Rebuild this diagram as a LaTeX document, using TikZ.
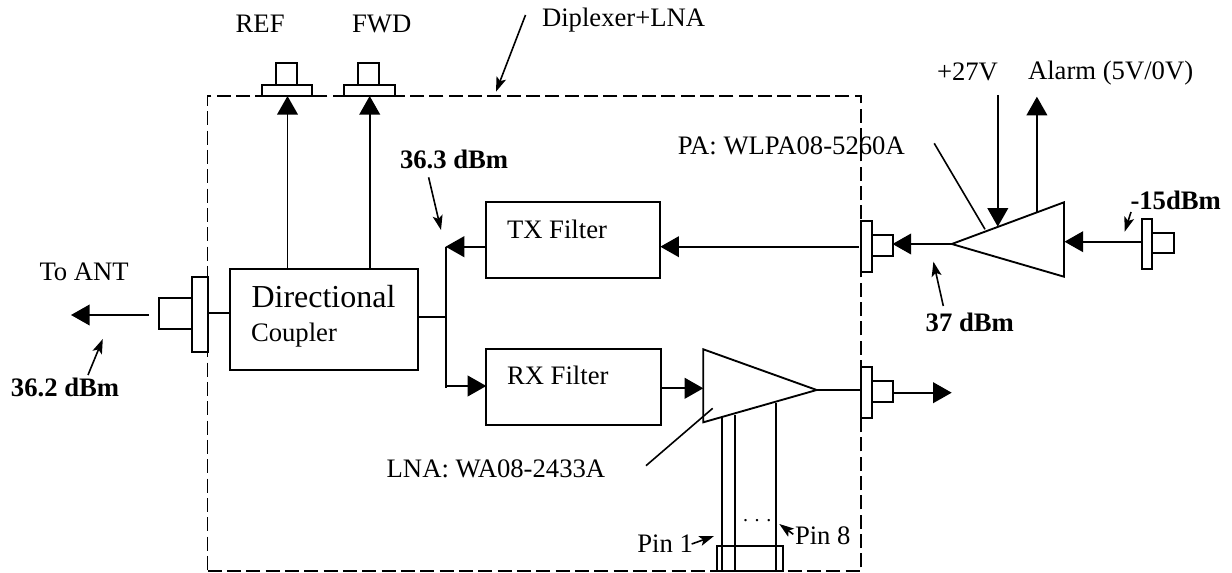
\documentclass[tikz,border=0pt]{standalone}
\usepackage{fontspec}
\setmainfont{Liberation Serif}
\usetikzlibrary{arrows.meta}
\tikzset{
  px/.style={x=0.75pt,y=-0.75pt},
  wire/.style={line width=1.4pt,line join=miter},
  thin wire/.style={line width=1.2pt},
  box/.style={draw,line width=1.4pt,inner sep=0pt,outer sep=0pt,anchor=north west},
  big arrow/.style={wire,-{Triangle[length=14pt,width=15.5pt]}},
  small arrow/.style={thin wire,-{Stealth[length=11pt,width=7.5pt,inset=2.5pt]}},
  lab/.style={anchor=base west,inner sep=0pt,outer sep=0pt,font=\fontsize{20}{22}\selectfont},
  blab/.style={lab,font=\fontsize{20}{22}\selectfont\bfseries},
  enclosure/.style={line width=1.4pt,dash pattern=on 10.5pt off 4pt},
}
\newcommand{\pxbox}[5]{\node[box,minimum width=#4*0.75pt,minimum height=#5*0.75pt] (#1) at (#2,#3) {};}
\begin{document}
\begin{tikzpicture}[px]
\useasboundingbox[fill=white] (0,0) rectangle (1232,573);
% enclosure
\node[enclosure,draw,inner sep=0pt,outer sep=0pt,anchor=north west,minimum width=653.5*0.75pt,minimum height=475.5*0.75pt] (encl) at (207.5,95.7) {};
% blocks
\pxbox{coupler}{229.7}{269}{188.3}{101}
\pxbox{tx}{486.3}{202.3}{174}{76}
\pxbox{rx}{486.3}{349.3}{174.4}{75.4}
% connectors: top
\pxbox{reftab}{261.8}{85}{50.6}{10.7}
\pxbox{refstem}{275.6}{62.7}{21.4}{22.3}
\pxbox{fwdtab}{344}{85}{50.6}{10.7}
\pxbox{fwdstem}{358}{62.7}{21.4}{22.3}
% left connector
\pxbox{antplate}{192}{277.3}{15.6}{74.4}
\pxbox{antstem}{159}{298.3}{33}{30.4}
% output connector of PA path
\pxbox{paplate}{861}{221}{10.8}{50.7}
\pxbox{pastem}{871.8}{235}{21.4}{21}
% LNA output connector
\pxbox{lnaplate}{861}{367.3}{10.8}{50.4}
\pxbox{lnastem}{871.8}{381}{21.5}{21}
% PA input connector
\pxbox{inplate}{1141.9}{219}{10.5}{50}
\pxbox{instem}{1152.4}{232.7}{21.6}{20.6}
% pin connector
\pxbox{pinbox}{717}{545.7}{66.3}{25.3}
% amplifier shapes
\coordinate (paapex) at (951.8,244);
\coordinate (patop) at (1064,202.3);
\coordinate (pabot) at (1064,276.7);
\draw[wire] (paapex) -- (patop) -- (pabot) -- cycle;
\coordinate (lnaapex) at (816.7,390);
\coordinate (lnatop) at (703.3,349.3);
\coordinate (lnabot) at (703.3,422.3);
\draw[wire] (lnaapex) -- (lnatop) -- (lnabot) -- cycle;
% free ends
\coordinate (busT) at (445.6,246.7);
\coordinate (busB) at (445.6,388);
\coordinate (busM) at (445.6,316.7);
\coordinate (busR) at (447,386);
\coordinate (antTip) at (71,315);
\coordinate (antTail) at (148.7,315);
% wires
\draw[big arrow] (287.5,269) -- (287.5,96);
\draw[big arrow] (369.7,269) -- (369.7,96);
\draw[wire] (busT) -- (busB);
\draw[big arrow] (486.3,246.7) -- (busT);
\draw[big arrow] (busR) -- (486.3,386);
\draw[wire] (418,316.7) -- (busM);
\draw[wire] (207.5,312.7) -- (229.7,312.7);
\draw[big arrow] (antTail) -- (antTip);
\draw[big arrow] (859,246.7) -- (660.3,246.7);
\draw[big arrow] (paapex) -- (892.5,244);
\draw[big arrow] (1141.9,241.7) -- (1064.5,241.7);
\draw[big arrow] (997.8,95) -- (997.8,226.7);
\draw[big arrow] (1036.9,213) -- (1036.9,96.7);
\draw[big arrow] (660.7,388.3) -- (703.3,388.3);
\draw[wire] (lnaapex) -- (861,390);
\draw[big arrow] (893.3,392.7) -- (951.7,392.7);
\draw[wire] (721.7,417) -- (721.7,571);
\draw[wire] (735.3,415) -- (735.3,571);
\draw[wire] (776.3,402.7) -- (776.3,571);
% pointer lines
\draw[thin wire] (934.2,143.3) -- (985,229.3);
\draw[thin wire] (646,465.7) -- (712.7,408.3);
% annotation arrows
\draw[small arrow] (525.5,15) -- (496,91.7);
\draw[small arrow] (428.6,177.3) -- (441,230);
\draw[small arrow] (88,375) -- (102.8,339);
\draw[small arrow] (1131,212) -- (1124.7,231.7);
\draw[small arrow] (943.3,306) -- (933.4,261.7);
\draw[small arrow] (793.3,534.3) -- (779.3,524);
\draw[small arrow] (691.7,544) -- (714,536);
% labels
\node[lab] (lref) at (235.7,33) {REF};
\node[lab] (lfwd) at (352,33) {FWD};
\node[lab] (ldip) at (542,27) {Diplexer+LNA};
\node[blab] (l363) at (400,169) {36.3 dBm};
\node[lab] (ltx) at (507,238.7) {TX Filter};
\node[lab] (lrx) at (507,385) {RX Filter};
\node[lab,font=\fontsize{24}{26}\selectfont] (ldir) at (251.5,308) {Directional};
\node[lab] (lcoup) at (251,341.7) {Coupler};
\node[lab] (lant) at (39.5,280.7) {To ANT};
\node[blab] (l362) at (11,397) {36.2 dBm};
\node[lab] (lpa) at (677.8,155) {PA: WLPA08-5260A};
\node[lab] (l27) at (937,81) {+27V};
\node[lab] (lal) at (1028,80) {Alarm (5V/0V)};
\node[blab] (l15) at (1130.5,210) {-15dBm};
\node[blab] (l37) at (925.7,332) {37 dBm};
\node[lab] (llna) at (386.7,478) {LNA: WA08-2433A};
\node[lab,font=\fontsize{15}{16}\selectfont] (ldots) at (743,522) {.\,\,.\,\,.};
\node[lab] (lp8) at (795,544) {Pin 8};
\node[lab] (lp1) at (637.3,552.3) {Pin 1};
\end{tikzpicture}
\end{document}
